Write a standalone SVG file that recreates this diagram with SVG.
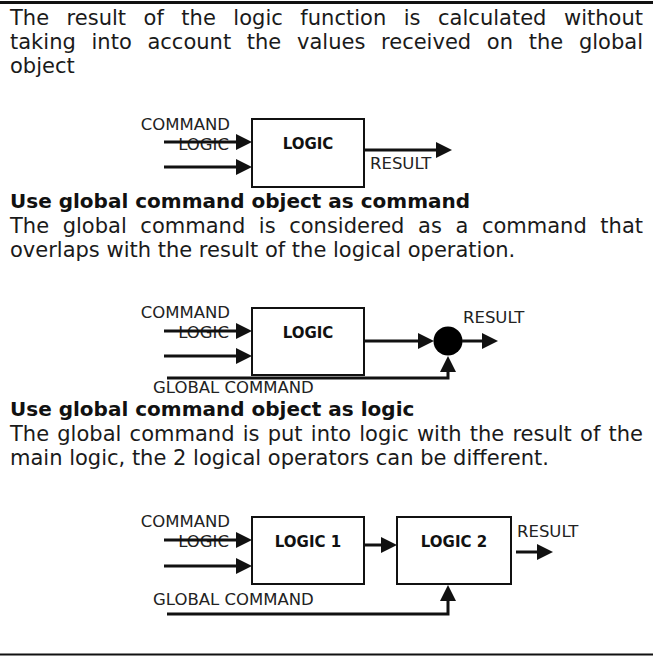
<svg xmlns="http://www.w3.org/2000/svg" width="653" height="656" viewBox="0 0 653 656">
<style>
.body{font-family:"DejaVu Sans","Liberation Sans",sans-serif;font-size:21px;fill:#1a1a1a}
.head{font-family:"DejaVu Sans","Liberation Sans",sans-serif;font-size:20px;font-weight:bold;fill:#111}
.lbl{font-family:"DejaVu Sans","Liberation Sans",sans-serif;font-size:16.5px;fill:#222}
.blk{font-family:"DejaVu Sans","Liberation Sans",sans-serif;font-size:15px;font-weight:bold;fill:#111;text-anchor:middle}
.box{fill:#fff;stroke:#111;stroke-width:2}
.wire{fill:none;stroke:#111;stroke-width:3;marker-end:url(#ah)}
.rule{stroke:#111}
</style>
<defs>
<marker id="ah" markerUnits="userSpaceOnUse" markerWidth="16" markerHeight="16" refX="8" refY="8" orient="auto">
<path d="M0,0 L16,8 L0,16 z" fill="#111"/>
</marker>
</defs>
<rect width="653" height="656" fill="#fff"/>
<line class="rule" x1="0" y1="2.5" x2="653" y2="2.5" stroke-width="3"/>
<line class="rule" x1="0" y1="654.5" x2="653" y2="654.5" stroke-width="2"/>

<g id="text1">
<text class="body" x="10" y="25" word-spacing="10.8" textLength="633" lengthAdjust="spacing">The result of the logic function is calculated without</text>
<text class="body" x="10" y="49" word-spacing="9" textLength="633" lengthAdjust="spacing">taking into account the values received on the global</text>
<text class="body" x="10" y="73">object</text>
</g>

<g id="text2">
<text class="head" x="10" y="208">Use global command object as command</text>
<text class="body" x="10" y="233" word-spacing="6.9" textLength="633" lengthAdjust="spacing">The global command is considered as a command that</text>
<text class="body" x="10" y="257">overlaps with the result of the logical operation.</text>
</g>

<g id="text3">
<text class="head" x="10" y="416">Use global command object as logic</text>
<text class="body" x="10" y="441" word-spacing="1.5" textLength="633" lengthAdjust="spacing">The global command is put into logic with the result of the</text>
<text class="body" x="10" y="465">main logic, the 2 logical operators can be different.</text>
</g>

<g id="logic-a">
<rect class="box" x="252" y="119" width="112" height="68"/>
<text class="blk" x="308" y="149">LOGIC</text>
</g>
<g id="labels-a">
<text class="lbl" x="230" y="129.5" text-anchor="end">COMMAND</text>
<text class="lbl" x="229" y="149.5" text-anchor="end">LOGIC</text>
<text class="lbl" x="370" y="169">RESULT</text>
</g>

<g id="logic-b">
<rect class="box" x="252" y="308" width="112" height="67"/>
<text class="blk" x="308" y="338">LOGIC</text>
</g>
<g id="or-b">
<circle cx="448" cy="341" r="14.5" fill="#000"/>
</g>
<g id="labels-b">
<text class="lbl" x="230" y="318" text-anchor="end">COMMAND</text>
<text class="lbl" x="229" y="338" text-anchor="end">LOGIC</text>
<text class="lbl" x="463" y="323">RESULT</text>
<text class="lbl" x="153" y="393">GLOBAL COMMAND</text>
</g>

<g id="logic1-c">
<rect class="box" x="252" y="517" width="112" height="67"/>
<text class="blk" x="308" y="547">LOGIC 1</text>
</g>
<g id="logic2-c">
<rect class="box" x="397" y="517" width="114" height="67"/>
<text class="blk" x="454" y="547">LOGIC 2</text>
</g>
<g id="labels-c">
<text class="lbl" x="230" y="527" text-anchor="end">COMMAND</text>
<text class="lbl" x="229" y="547" text-anchor="end">LOGIC</text>
<text class="lbl" x="517" y="537">RESULT</text>
<text class="lbl" x="153" y="605">GLOBAL COMMAND</text>
</g>

<g id="connectors">
<path class="wire" d="M164,142 H244"/>
<path class="wire" d="M164,167 H244"/>
<path class="wire" d="M364,150 H444"/>

<path class="wire" d="M164,331 H244"/>
<path class="wire" d="M164,356 H244"/>
<path class="wire" d="M364,341 H426"/>
<path class="wire" d="M462,341 H490"/>
<path class="wire" d="M167,378 H448 V364"/>

<path class="wire" d="M164,540 H244"/>
<path class="wire" d="M164,566 H244"/>
<path class="wire" d="M364,545 H389"/>
<path class="wire" d="M516,552 H545"/>
<path class="wire" d="M167,614 H448 V593"/>
</g>
</svg>
